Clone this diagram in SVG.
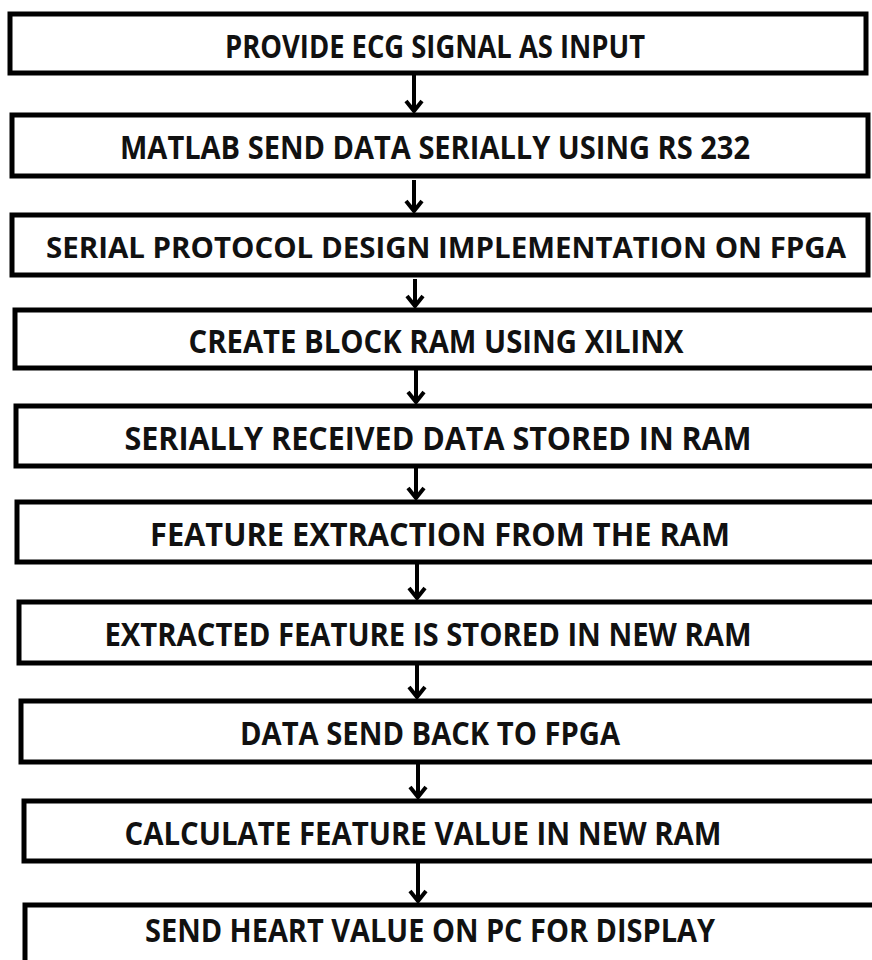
<svg xmlns="http://www.w3.org/2000/svg" width="872" height="960" viewBox="0 0 872 960">
<defs>
<style>
.box{fill:#fff;stroke:#000;stroke-width:5}
.t{font-family:"Open Sans","Liberation Sans",sans-serif;font-weight:700;font-size:32px;fill:#111;text-anchor:middle;dominant-baseline:central}
.c{stroke:#000;stroke-width:4;fill:none}
</style>
<marker id="ah" markerWidth="20" markerHeight="20" refX="0" refY="0" viewBox="-12 -10 14 20" orient="auto" markerUnits="userSpaceOnUse">
<path d="M-10,-8 L0,0 L-10,8" fill="none" stroke="#000" stroke-width="4"/>
</marker>
</defs>
<rect width="872" height="960" fill="#fff"/>
<g id="connectors">
<line class="c" x1="414" y1="75" x2="414" y2="111" marker-end="url(#ah)"/>
<line class="c" x1="414" y1="180" x2="414" y2="211" marker-end="url(#ah)"/>
<line class="c" x1="415" y1="279" x2="415" y2="306" marker-end="url(#ah)"/>
<line class="c" x1="416" y1="370" x2="416" y2="402" marker-end="url(#ah)"/>
<line class="c" x1="416" y1="468" x2="416" y2="498" marker-end="url(#ah)"/>
<line class="c" x1="417" y1="564" x2="417" y2="598" marker-end="url(#ah)"/>
<line class="c" x1="417" y1="665" x2="417" y2="697" marker-end="url(#ah)"/>
<line class="c" x1="418" y1="764" x2="418" y2="797" marker-end="url(#ah)"/>
<line class="c" x1="418" y1="863" x2="418" y2="901" marker-end="url(#ah)"/>
</g>
<g id="n1"><rect class="box" x="10" y="14" width="856" height="59"/><text class="t" x="435" y="45" textLength="420" lengthAdjust="spacingAndGlyphs">PROVIDE ECG SIGNAL AS INPUT</text></g>
<g id="n2"><rect class="box" x="12" y="115" width="856" height="61"/><text class="t" x="435" y="146" textLength="630" lengthAdjust="spacingAndGlyphs">MATLAB SEND DATA SERIALLY USING RS 232</text></g>
<g id="n3"><rect class="box" x="12" y="215" width="856" height="60"/><text class="t" x="446" y="246" style="font-size:29px" textLength="800" lengthAdjust="spacingAndGlyphs">SERIAL PROTOCOL DESIGN IMPLEMENTATION ON FPGA</text></g>
<g id="n4"><rect class="box" x="15" y="310" width="866" height="58"/><text class="t" x="436" y="340" textLength="495" lengthAdjust="spacingAndGlyphs">CREATE BLOCK RAM USING XILINX</text></g>
<g id="n5"><rect class="box" x="16" y="406" width="866" height="60"/><text class="t" x="438" y="437" textLength="627" lengthAdjust="spacingAndGlyphs">SERIALLY RECEIVED DATA STORED IN RAM</text></g>
<g id="n6"><rect class="box" x="17" y="502" width="866" height="60"/><text class="t" x="440" y="533" textLength="580" lengthAdjust="spacingAndGlyphs">FEATURE EXTRACTION FROM THE RAM</text></g>
<g id="n7"><rect class="box" x="19" y="602" width="866" height="61"/><text class="t" x="428" y="633" textLength="647" lengthAdjust="spacingAndGlyphs">EXTRACTED FEATURE IS STORED IN NEW RAM</text></g>
<g id="n8"><rect class="box" x="21" y="701" width="866" height="61"/><text class="t" x="430" y="732" textLength="380" lengthAdjust="spacingAndGlyphs">DATA SEND BACK TO FPGA</text></g>
<g id="n9"><rect class="box" x="24" y="801" width="866" height="60"/><text class="t" x="423" y="832" textLength="597" lengthAdjust="spacingAndGlyphs">CALCULATE FEATURE VALUE IN NEW RAM</text></g>
<g id="n10"><rect class="box" x="25" y="905" width="866" height="70"/><text class="t" x="430" y="929" textLength="570" lengthAdjust="spacingAndGlyphs">SEND HEART VALUE ON PC FOR DISPLAY</text></g>
</svg>
